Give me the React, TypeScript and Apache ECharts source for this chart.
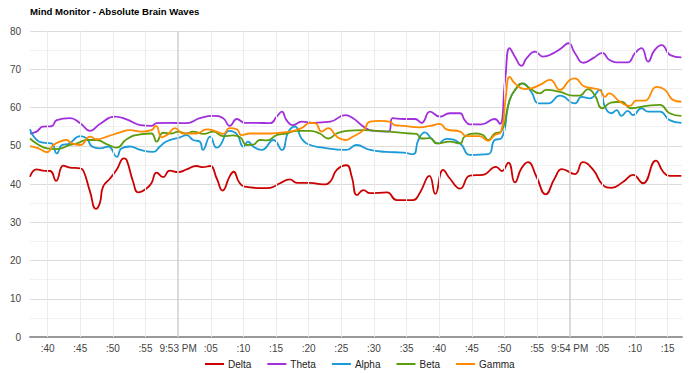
import React, { useEffect, useRef } from "react";
import * as echarts from "echarts";

const TITLE = "Mind Monitor - Absolute Brain Waves";
const SERIES_NAMES = ["Delta", "Theta", "Alpha", "Beta", "Gamma"];
const COLORS = ["#cc0000", "#a12fdc", "#1a9ad6", "#5c9c0c", "#ff8a00"];

// [seconds after 9:52:00 PM, value]
const deltaPts = [[37.3,41.9],[38.3,43.8],[39.3,43.5],[40.4,43.4],[41.3,40.8],[42.4,44.8],[43.4,44.3],[45.0,44.1],[45.5,43.4],[46.5,38.0],[47.4,33.5],[48.0,35.0],[48.5,39.3],[49.6,41.5],[50.6,43.8],[51.7,46.7],[52.1,46.3],[53.1,40.6],[53.9,37.8],[55.2,38.9],[55.9,40.2],[56.7,43.0],[57.7,41.8],[58.7,43.5],[60.0,43.1],[61.3,43.8],[62.8,44.7],[63.8,44.4],[64.9,44.7],[65.9,41.5],[66.8,38.3],[67.9,42.0],[68.5,43.2],[69.3,40.6],[70.2,39.3],[73.0,38.9],[74.1,39.0],[75.6,40.2],[77.1,41.2],[78.2,40.3],[80.2,40.3],[82.2,39.9],[83.3,40.6],[84.3,43.7],[85.8,44.9],[86.6,41.9],[87.4,37.1],[88.4,38.4],[89.4,37.6],[92.0,37.8],[93.5,35.8],[96.0,35.8],[97.0,37.6],[98.5,42.1],[99.4,37.4],[100.6,43.7],[101.6,41.5],[103.2,38.8],[104.7,42.2],[106.7,42.4],[108.7,44.5],[109.6,43.4],[110.6,45.6],[111.6,40.4],[112.6,44.1],[113.6,45.7],[114.9,41.9],[116.3,37.3],[117.7,41.5],[118.8,43.9],[120.8,42.6],[122.0,45.7],[123.6,43.7],[125.1,39.7],[126.4,39.0],[128.2,40.6],[129.7,42.4],[131.2,40.2],[133.2,46.1],[134.3,43.2],[135.3,42.1],[137.1,42.1]];

const thetaPts = [[37.3,53.2],[38.3,53.7],[39.3,55.0],[40.6,55.1],[41.4,56.7],[43.4,57.2],[45.0,55.9],[46.5,53.9],[48.0,55.7],[50.3,57.6],[52.1,56.9],[54.2,55.4],[55.9,55.2],[56.7,55.9],[58.5,56.0],[61.3,55.9],[63.3,57.2],[65.4,57.8],[66.9,57.2],[67.9,55.2],[69.0,57.0],[70.2,56.0],[72.0,56.0],[74.1,55.9],[75.1,57.6],[75.9,58.9],[76.6,56.7],[77.6,55.4],[78.9,56.3],[80.7,56.0],[83.3,56.3],[85.6,58.0],[86.8,57.2],[88.4,55.0],[89.9,53.9],[92.2,53.7],[92.9,57.2],[94.5,57.0],[96.3,57.0],[97.3,56.0],[98.6,58.9],[100.1,57.6],[101.6,58.5],[103.2,58.5],[103.9,56.7],[104.7,55.6],[106.5,55.6],[108.5,57.0],[109.3,55.7],[110.1,67.2],[110.8,75.5],[111.6,73.3],[112.6,70.9],[113.4,72.9],[114.7,74.6],[115.9,73.3],[117.5,74.2],[118.7,75.5],[119.8,76.8],[120.8,74.2],[122.1,71.7],[123.6,72.9],[125.0,74.3],[126.1,72.4],[127.7,71.8],[128.9,71.8],[130.0,74.2],[131.0,75.5],[132.0,72.0],[133.0,75.0],[134.1,76.3],[135.4,73.7],[137.1,73.1]];

const alphaPts = [[37.3,54.3],[38.1,51.9],[39.3,50.8],[40.6,50.6],[41.4,48.0],[42.2,50.2],[43.2,50.5],[45.0,52.5],[46.0,51.9],[46.8,49.8],[48.0,49.3],[49.3,49.8],[50.6,47.1],[51.3,49.3],[52.6,49.8],[54.2,48.9],[56.2,48.4],[57.2,49.8],[58.2,51.1],[60.3,52.2],[61.3,52.8],[62.3,51.5],[63.3,51.1],[63.8,48.9],[64.9,52.4],[65.9,49.5],[66.4,50.0],[67.9,53.9],[69.0,53.0],[70.0,49.8],[70.7,51.1],[71.5,49.8],[72.8,48.9],[74.6,51.5],[75.9,48.9],[76.9,53.7],[77.9,55.0],[78.9,51.9],[79.9,50.4],[82.2,49.5],[85.8,48.9],[87.3,50.2],[89.4,48.9],[91.9,48.4],[94.5,48.2],[96.0,47.8],[96.8,51.5],[97.8,53.5],[98.8,51.9],[99.8,50.6],[101.1,51.8],[103.2,50.6],[104.7,47.6],[107.5,47.8],[108.5,51.5],[109.5,51.9],[110.8,62.0],[111.8,65.0],[112.8,66.3],[114.1,64.1],[115.2,61.1],[116.7,61.1],[118.5,63.1],[120.8,61.1],[121.8,62.8],[123.1,62.4],[124.6,64.6],[125.4,60.2],[126.4,58.5],[127.2,59.3],[127.9,57.8],[128.9,59.1],[129.7,58.0],[131.0,59.8],[132.0,58.9],[133.8,58.9],[135.3,56.7],[137.1,56.0]];

const betaPts = [[37.3,51.9],[38.3,50.6],[39.9,49.3],[41.4,49.1],[43.4,50.2],[44.5,50.6],[46.0,51.5],[47.5,51.5],[49.1,50.4],[50.6,49.5],[52.1,51.7],[54.2,53.0],[55.9,53.2],[56.7,51.1],[57.7,53.4],[59.0,53.2],[60.0,53.7],[61.3,53.2],[62.3,53.7],[63.9,53.1],[65.4,53.7],[66.9,52.5],[68.4,52.7],[69.5,52.2],[70.5,50.2],[71.5,50.3],[72.5,51.5],[73.6,51.4],[75.1,52.8],[76.6,53.2],[78.2,53.9],[80.2,53.9],[81.7,53.2],[83.0,51.9],[84.3,53.2],[85.8,53.9],[88.4,54.1],[90.4,53.9],[92.4,53.7],[95.5,53.2],[96.5,53.1],[97.3,51.9],[98.6,52.0],[99.6,50.6],[101.6,51.1],[103.2,50.6],[103.9,52.4],[105.7,53.2],[106.7,52.8],[107.5,51.5],[108.5,53.2],[109.5,53.7],[110.8,62.0],[111.8,65.0],[112.6,66.3],[113.9,65.0],[115.4,63.7],[116.4,64.6],[118.5,64.1],[120.5,63.1],[121.5,63.1],[122.8,64.8],[123.8,63.3],[125.0,59.8],[126.3,61.3],[127.9,61.5],[129.4,59.8],[131.8,60.4],[133.8,60.7],[135.3,58.5],[137.1,57.8]];

const gammaPts = [[37.3,49.9],[38.6,49.3],[39.9,48.3],[40.9,50.2],[41.9,51.1],[42.9,51.5],[43.7,50.6],[45.0,50.2],[46.5,52.4],[47.5,51.7],[49.1,52.4],[51.1,53.5],[52.6,54.1],[54.4,53.7],[55.9,54.1],[56.6,55.2],[57.5,52.2],[58.5,53.1],[59.5,54.6],[60.8,53.2],[62.8,53.2],[64.4,54.3],[65.9,53.7],[66.9,53.1],[67.9,54.6],[69.0,54.3],[69.7,52.8],[71.0,53.2],[72.0,53.2],[74.1,53.2],[75.6,53.4],[77.1,53.7],[78.9,54.6],[80.2,56.0],[81.0,55.9],[82.0,53.7],[83.0,54.6],[84.3,52.4],[85.6,51.5],[86.8,52.4],[88.4,54.1],[89.4,56.3],[90.9,56.5],[92.4,56.3],[93.2,55.4],[94.5,55.2],[97.0,54.8],[98.6,55.2],[100.1,55.7],[101.1,54.3],[103.2,53.7],[104.2,52.5],[106.2,52.5],[107.5,51.3],[108.5,52.8],[109.5,53.7],[110.2,62.8],[110.8,68.0],[111.6,66.3],[113.1,64.8],[114.1,65.0],[115.4,65.9],[117.0,67.2],[118.5,64.6],[120.0,67.2],[120.8,67.6],[122.1,65.6],[123.6,65.0],[124.6,64.6],[125.4,62.8],[126.0,63.7],[127.7,61.5],[129.2,60.4],[130.2,61.8],[131.5,61.8],[133.3,65.4],[134.6,64.6],[135.8,62.0],[137.1,61.5]];

// x axis in seconds after 9:52:00 PM
const X_MIN_SEC = 37.3;
const X_MAX_SEC = 137.2;
const TICK_SECS = [40, 45, 50, 55, 60, 65, 70, 75, 80, 85, 90, 95, 100, 105, 110, 115, 120, 125, 130, 135];
const TICK_LABELS = [":40", ":45", ":50", ":55", "9:53 PM", ":05", ":10", ":15", ":20", ":25", ":30", ":35", ":40", ":45", ":50", ":55", "9:54 PM", ":05", ":10", ":15"];
const MINUTE_MARKS_SEC = [60, 120];
const Y_MIN = 0;
const Y_MAX = 80;
const Y_STEP = 10;

const FONT = "'Liberation Sans', Arial, sans-serif";

export default function App() {
  const ref = useRef<HTMLDivElement>(null);
  useEffect(() => {
    if (!ref.current) return;
    const chart = echarts.init(ref.current, undefined, { renderer: "svg" });
    const allPts = [deltaPts, thetaPts, alphaPts, betaPts, gammaPts];
    const fmt = (v: number) => {
      const idx = TICK_SECS.findIndex((t) => Math.abs(t - v) < 1e-6);
      return idx >= 0 ? TICK_LABELS[idx] : "";
    };
    const gridMarks = TICK_SECS.filter((s) => MINUTE_MARKS_SEC.indexOf(s) < 0).map((s) => ({
      xAxis: s,
      lineStyle: { color: "#ebebeb", width: 1, type: "solid" },
    }));
    const minuteMarks = MINUTE_MARKS_SEC.map((s) => ({
      xAxis: s,
      lineStyle: { color: "#cfcfcf", width: 1.5, type: "solid" },
    }));
    chart.setOption({
      animation: false,
      title: {
        text: TITLE,
        left: 30,
        top: 6,
        padding: 0,
        textStyle: { fontFamily: FONT, fontSize: 9.6, fontWeight: "bold", color: "#000" },
      },
      grid: { left: 30, right: 8, top: 31, bottom: 36, containLabel: false },
      legend: {
        data: SERIES_NAMES,
        left: 205,
        top: 359,
        padding: 0,
        icon: "rect",
        itemWidth: 19,
        itemHeight: 2,
        itemGap: 16,
        textStyle: { fontFamily: FONT, fontSize: 10, color: "#222", padding: [0, 0, 0, -1] },
      },
      xAxis: {
        type: "value",
        min: X_MIN_SEC,
        max: X_MAX_SEC,
        axisLine: { show: true, onZero: false, lineStyle: { color: "#999", width: 2 } },
        axisTick: { show: false, customValues: TICK_SECS },
        splitLine: { show: false },
        axisLabel: {
          customValues: TICK_SECS,
          formatter: fmt,
          fontFamily: FONT,
          fontSize: 10,
          color: "#444",
          margin: 6,
          showMinLabel: true,
          showMaxLabel: true,
        },
      },
      yAxis: {
        type: "value",
        min: Y_MIN,
        max: Y_MAX,
        interval: Y_STEP,
        axisLine: { show: false },
        axisTick: { show: false },
        splitLine: { show: true, lineStyle: { color: "#dcdcdc", width: 1 } },
        minorTick: { show: false, splitNumber: 2 },
        minorSplitLine: { show: true, lineStyle: { color: "#f1f1f1", width: 1 } },
        axisLabel: { fontFamily: FONT, fontSize: 10, color: "#444", margin: 9 },
      },
      series: [
        {
          name: "_grid",
          type: "line",
          data: [],
          silent: true,
          z: 1,
          markLine: {
            silent: true,
            symbol: "none",
            label: { show: false },
            emphasis: { disabled: true },
            data: [...gridMarks, ...minuteMarks],
          },
        },
        ...SERIES_NAMES.map((name, i) => ({
          name,
          type: "line",
          z: 2 + i,
          smooth: 0.5,
          showSymbol: false,
          symbol: "none",
          color: COLORS[i],
          lineStyle: { width: 1.8, color: COLORS[i] },
          data: allPts[i],
        })),
      ],
    });
    return () => chart.dispose();
  }, []);
  return <div ref={ref} style={{ width: 690, height: 373, position: "absolute", left: 0, top: 0 }} />;
}
